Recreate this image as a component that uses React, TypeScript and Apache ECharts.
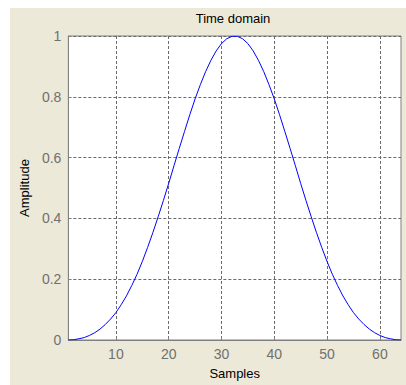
import React, { useEffect, useRef } from "react";
import * as echarts from "echarts";

const samples: number[] = [
  1, 2, 3, 4, 5, 6, 7, 8, 9, 10, 11, 12, 13, 14, 15, 16,
  17, 18, 19, 20, 21, 22, 23, 24, 25, 26, 27, 28, 29, 30, 31, 32,
  33, 34, 35, 36, 37, 38, 39, 40, 41, 42, 43, 44, 45, 46, 47, 48,
  49, 50, 51, 52, 53, 54, 55, 56, 57, 58, 59, 60, 61, 62, 63, 64,
];

const amplitude: number[] = [
  0, 0.001, 0.004, 0.008, 0.015, 0.024, 0.036, 0.051, 0.069, 0.09, 0.116, 0.145, 0.179, 0.216, 0.258, 0.304,
  0.353, 0.405, 0.459, 0.515, 0.573, 0.63, 0.686, 0.741, 0.793, 0.84, 0.883, 0.92, 0.951, 0.975, 0.991, 0.999,
  0.999, 0.991, 0.975, 0.951, 0.92, 0.883, 0.84, 0.793, 0.741, 0.686, 0.63, 0.573, 0.515, 0.459, 0.405, 0.353,
  0.304, 0.258, 0.216, 0.179, 0.145, 0.116, 0.09, 0.069, 0.051, 0.036, 0.024, 0.015, 0.008, 0.004, 0.001, 0,
];

const xTicks: number[] = [10, 20, 30, 40, 50, 60];

const titleText = "Time domain";
const xName = "Samples";
const yName = "Amplitude";

const FONT = "'Liberation Sans', Arial, sans-serif";

export default function App() {
  const ref = useRef<HTMLDivElement>(null);
  useEffect(() => {
    if (!ref.current) return;
    const chart = echarts.init(ref.current, undefined, { renderer: "svg" });
    const data = samples.map((s, i) => [s, amplitude[i]]);
    chart.setOption({
      animation: false,
      backgroundColor: "#ECE9D8",
      grid: {
        left: 55,
        top: 28,
        right: 5,
        bottom: 43,
        show: true,
        backgroundColor: "#ffffff",
        borderColor: "#808080",
        borderWidth: 1,
      },
      graphic: [
        {
          type: "text",
          x: 223,
          y: 10,
          style: {
            text: titleText,
            textAlign: "center",
            textVerticalAlign: "middle",
            font: `13px ${FONT}`,
            fill: "#000",
          },
        },
      ],
      xAxis: {
        type: "value",
        min: 1,
        max: 64,
        name: xName,
        nameLocation: "middle",
        nameGap: 27,
        nameTextStyle: { fontFamily: FONT, fontSize: 13, color: "#000" },
        axisLine: { show: true, lineStyle: { color: "#808080" } },
        axisTick: { show: true, inside: true, length: 3, customValues: xTicks, lineStyle: { color: "#808080" } },
        axisLabel: { customValues: xTicks, margin: 7, fontFamily: FONT, fontSize: 14, color: "#707070" },
        splitLine: { show: true, lineStyle: { color: "#6a6a6a", type: [3, 2], width: 1 } },
      },
      yAxis: {
        type: "value",
        min: 0,
        max: 1,
        interval: 0.2,
        name: yName,
        nameLocation: "middle",
        nameGap: 37,
        nameTextStyle: { fontFamily: FONT, fontSize: 13, color: "#000" },
        axisLine: { show: true, lineStyle: { color: "#808080" } },
        axisTick: { show: true, inside: true, length: 3, lineStyle: { color: "#808080" } },
        axisLabel: { margin: 7, fontFamily: FONT, fontSize: 14, color: "#707070" },
        splitLine: { show: true, lineStyle: { color: "#6a6a6a", type: [3, 2], width: 1 } },
      },
      series: [
        {
          type: "line",
          data,
          showSymbol: false,
          symbol: "none",
          smooth: false,
          lineStyle: { color: "#0000ff", width: 1 },
        },
      ],
    });
    return () => chart.dispose();
  }, []);
  return (
    <div
      ref={ref}
      style={{ position: "absolute", left: 10, top: 8, width: 396, height: 377 }}
    />
  );
}
